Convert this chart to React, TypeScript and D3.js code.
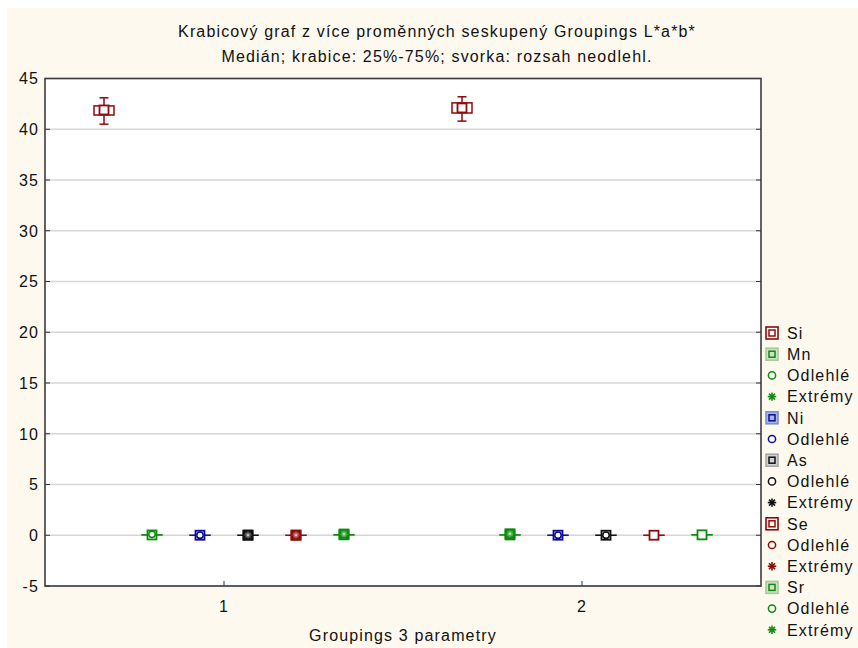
import React from "react";
import * as d3 from "d3";

// Grouping categories on the x axis and the variables drawn inside each group
const groups = ["1", "2"];
const variables = ["Si", "Mn", "Ni", "As", "Se", "Sr"];

// Box statistics per variable, one value per group (order follows `groups`)
const mins: Record<string, number[]> = {
  Si: [40.5, 40.8], Mn: [0.01, 0.01], Ni: [0.002, 0.002], As: [0.001, 0.001], Se: [0.001, 0.001], Sr: [0.02, 0.02],
};
const q1s: Record<string, number[]> = {
  Si: [41.4, 41.6], Mn: [0.02, 0.02], Ni: [0.004, 0.004], As: [0.002, 0.002], Se: [0.002, 0.002], Sr: [0.03, 0.03],
};
const medians: Record<string, number[]> = {
  Si: [41.9, 42.1], Mn: [0.03, 0.03], Ni: [0.005, 0.005], As: [0.003, 0.003], Se: [0.003, 0.003], Sr: [0.04, 0.04],
};
const q3s: Record<string, number[]> = {
  Si: [42.3, 42.6], Mn: [0.04, 0.04], Ni: [0.006, 0.006], As: [0.004, 0.004], Se: [0.004, 0.004], Sr: [0.05, 0.05],
};
const maxs: Record<string, number[]> = {
  Si: [43.1, 43.2], Mn: [0.06, 0.06], Ni: [0.008, 0.008], As: [0.006, 0.006], Se: [0.006, 0.006], Sr: [0.07, 0.07],
};
const outliers: Record<string, number[][]> = {
  Si: [[], []], Mn: [[0.09], [0.09]], Ni: [[0.012], [0.012]], As: [[0.01], [0.01]], Se: [[0.01], []], Sr: [[], []],
};
const extremes: Record<string, number[][]> = {
  Si: [[], []], Mn: [[], [0.15]], Ni: [[], []], As: [[0.02], []], Se: [[0.02], []], Sr: [[0.12], []],
};

const yTicks = [-5, 0, 5, 10, 15, 20, 25, 30, 35, 40, 45];

const strokeColors: Record<string, string> = {
  Si: "#8e0b0b", Mn: "#0d8a0d", Ni: "#0b0b99", As: "#111111", Se: "#8e0b0b", Sr: "#0d8a0d",
};
const boxFills: Record<string, string> = {
  Si: "#ffffff", Mn: "#cfe3c4", Ni: "#a9b6e0", As: "#d2d2d2", Se: "#fffaf2", Sr: "#cfe3c4",
};
const legendBoxStrokes: Record<string, string> = {
  Si: "#8e0b0b", Mn: "#a9c89b", Ni: "#7d8fcc", As: "#a8a8a8", Se: "#8e0b0b", Sr: "#a9c89b",
};

// Legend rows: box entries plus outlier / extreme markers per variable
const legendRows: { kind: "box" | "out" | "ext"; v: string; label: string }[] = [
  { kind: "box", v: "Si", label: "Si" },
  { kind: "box", v: "Mn", label: "Mn" },
  { kind: "out", v: "Mn", label: "Odlehlé" },
  { kind: "ext", v: "Mn", label: "Extrémy" },
  { kind: "box", v: "Ni", label: "Ni" },
  { kind: "out", v: "Ni", label: "Odlehlé" },
  { kind: "box", v: "As", label: "As" },
  { kind: "out", v: "As", label: "Odlehlé" },
  { kind: "ext", v: "As", label: "Extrémy" },
  { kind: "box", v: "Se", label: "Se" },
  { kind: "out", v: "Se", label: "Odlehlé" },
  { kind: "ext", v: "Se", label: "Extrémy" },
  { kind: "box", v: "Sr", label: "Sr" },
  { kind: "out", v: "Sr", label: "Odlehlé" },
  { kind: "ext", v: "Sr", label: "Extrémy" },
];

const W = 858;
const H = 648;
const plot = { left: 45, right: 761, top: 78.5, bottom: 586 };
const FONT = "'Liberation Sans', Arial, sans-serif";
const LS = 1.15;

function Asterisk({ cx, cy, r, color }: { cx: number; cy: number; r: number; color: string }) {
  const angles = [0, 45, 90, 135];
  return (
    <g stroke={color} strokeWidth={1.6}>
      {angles.map((a) => {
        const rad = (a * Math.PI) / 180;
        const dx = Math.cos(rad) * r;
        const dy = Math.sin(rad) * r;
        return <line key={a} x1={cx - dx} y1={cy - dy} x2={cx + dx} y2={cy + dy} />;
      })}
    </g>
  );
}

export default function App() {
  const y = d3.scaleLinear().domain([-5, 45]).range([plot.bottom, plot.top]);
  const x = d3.scaleBand<string>().domain(groups).range([plot.left, plot.right]).padding(0);
  const inner = d3.scalePoint<string>().domain(variables).range([-120, 120]);
  const cx = (g: string) => (x(g) ?? 0) + x.bandwidth() / 2;

  const boxW = 20;
  const capW = 9;
  const med = 4.5;

  return (
    <svg
      width={W}
      height={H}
      style={{ position: "absolute", left: 0, top: 0, display: "block" }}
      fontFamily={FONT}
      letterSpacing={LS}
    >
      <rect x={0} y={0} width={W} height={H} fill="#ffffff" />
      <rect x={7} y={8} width={W - 7} height={H - 8} fill="#fdf9ef" />
      <rect
        x={plot.left}
        y={plot.top}
        width={plot.right - plot.left}
        height={plot.bottom - plot.top}
        fill="#ffffff"
      />

      {/* horizontal gridlines */}
      {yTicks.map((t) => (
        <line
          key={"g" + t}
          x1={plot.left}
          x2={plot.right}
          y1={y(t)}
          y2={y(t)}
          stroke="#d6d6d6"
          strokeWidth={1.5}
        />
      ))}

      {/* inward ticks on left / right axes */}
      {yTicks.map((t) => (
        <g key={"t" + t} stroke="#333" strokeWidth={1}>
          <line x1={plot.left} x2={plot.left + 5} y1={y(t)} y2={y(t)} />
          <line x1={plot.right - 5} x2={plot.right} y1={y(t)} y2={y(t)} />
        </g>
      ))}
      {groups.map((g) => (
        <line key={"xt" + g} x1={cx(g)} x2={cx(g)} y1={plot.bottom - 5} y2={plot.bottom} stroke="#333" strokeWidth={1} />
      ))}

      {/* boxes */}
      {groups.map((g, gi) =>
        variables.map((v) => {
          const px = cx(g) + (inner(v) ?? 0);
          const c = strokeColors[v];
          const yq1 = y(q1s[v][gi]);
          const yq3 = y(q3s[v][gi]);
          const ymed = y(medians[v][gi]);
          const ymin = y(mins[v][gi]);
          const ymax = y(maxs[v][gi]);
          return (
            <g key={g + v}>
              <line x1={px} x2={px} y1={ymax} y2={yq3} stroke={c} strokeWidth={1.5} />
              <line x1={px} x2={px} y1={yq1} y2={ymin} stroke={c} strokeWidth={1.5} />
              <line x1={px - capW / 2} x2={px + capW / 2} y1={ymax} y2={ymax} stroke={c} strokeWidth={1.5} />
              <line x1={px - capW / 2} x2={px + capW / 2} y1={ymin} y2={ymin} stroke={c} strokeWidth={1.5} />
              <rect
                x={px - boxW / 2}
                y={yq3}
                width={boxW}
                height={Math.max(yq1 - yq3, 0.01)}
                fill="#ffffff"
                stroke={c}
                strokeWidth={1.5}
              />
              <rect
                x={px - med}
                y={ymed - med}
                width={med * 2}
                height={med * 2}
                fill="#ffffff"
                stroke={c}
                strokeWidth={1.8}
              />
              {outliers[v][gi].map((o, i) => (
                <circle key={"o" + i} cx={px} cy={y(o)} r={3.2} fill="none" stroke={c} strokeWidth={1.5} />
              ))}
              {extremes[v][gi].map((e, i) => (
                <g key={"e" + i}>
                  <rect x={px - med} y={y(e) - med} width={med * 2} height={med * 2} fill={c} stroke={c} strokeWidth={1.8} />
                  <Asterisk cx={px} cy={y(e)} r={3.5} color="#ffffff55" />
                </g>
              ))}
            </g>
          );
        })
      )}

      {/* frame */}
      <rect
        x={plot.left}
        y={plot.top}
        width={plot.right - plot.left}
        height={plot.bottom - plot.top}
        fill="none"
        stroke="#3c3c3c"
        strokeWidth={1.6}
      />

      {/* y tick labels */}
      {yTicks.map((t) => (
        <text key={"yl" + t} x={39} y={y(t)} dy="0.36em" textAnchor="end" fontSize={16} fill="#111">
          {t}
        </text>
      ))}
      {/* x tick labels */}
      {groups.map((g) => (
        <text key={"xl" + g} x={cx(g)} y={612} textAnchor="middle" fontSize={16} fill="#111">
          {g}
        </text>
      ))}

      {/* titles */}
      <text x={437} y={37} textAnchor="middle" fontSize={16} fill="#111">
        Krabicový graf z více proměnných seskupený Groupings L*a*b*
      </text>
      <text x={437} y={62} textAnchor="middle" fontSize={16} fill="#111">
        Medián; krabice: 25%-75%; svorka: rozsah neodlehl.
      </text>
      <text x={(plot.left + plot.right) / 2} y={641} textAnchor="middle" fontSize={16} fill="#111">
        Groupings 3 parametry
      </text>

      {/* legend */}
      {legendRows.map((r, i) => {
        const ly = 333 + i * 21.2;
        const lx = 772;
        const c = strokeColors[r.v];
        return (
          <g key={"lg" + i}>
            {r.kind === "box" && (
              <g>
                <rect x={lx - 6} y={ly - 6} width={12} height={12} fill={boxFills[r.v]} stroke={legendBoxStrokes[r.v]} strokeWidth={1.6} />
                <rect x={lx - 3} y={ly - 3} width={6} height={6} fill="none" stroke={c} strokeWidth={1.5} />
              </g>
            )}
            {r.kind === "out" && <circle cx={lx} cy={ly} r={3.6} fill="none" stroke={c} strokeWidth={1.5} />}
            {r.kind === "ext" && <Asterisk cx={lx} cy={ly} r={4.2} color={c} />}
            <text x={787} y={ly} dy="0.36em" fontSize={16} fill="#111">
              {r.label}
            </text>
          </g>
        );
      })}
    </svg>
  );
}
